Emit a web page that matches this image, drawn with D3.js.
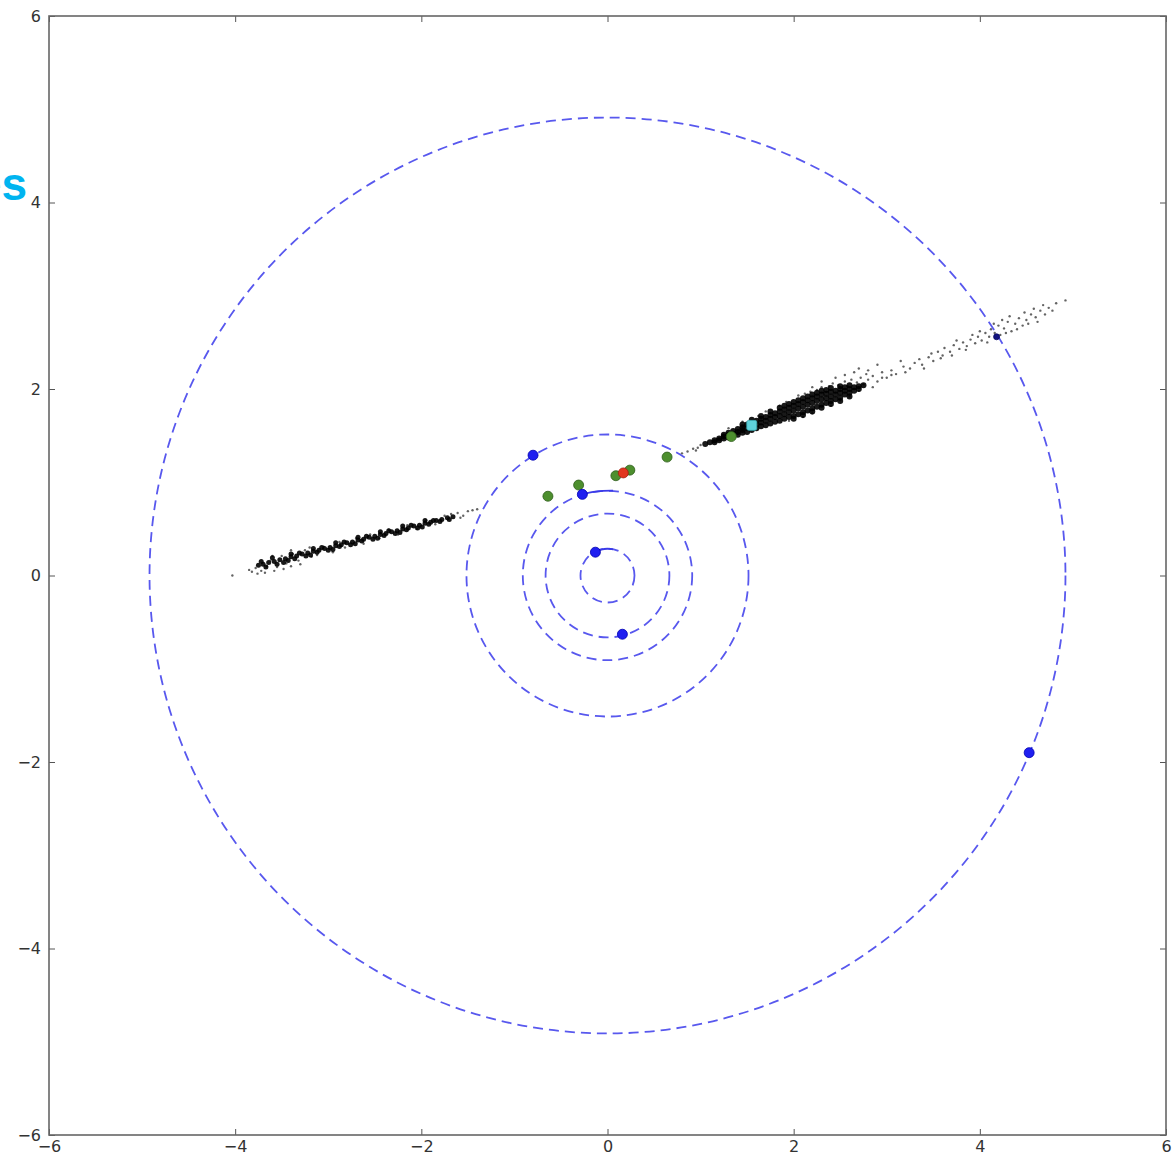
<!DOCTYPE html>
<html>
<head>
<meta charset="utf-8">
<script src="https://cdn.jsdelivr.net/npm/d3@7"></script>
<style>
  body { margin: 0; background: #fff; }
  svg { display: block; }
</style>
</head>
<body>
<svg id="chart"></svg>
<script>
// ---- data ----
const xTicks = [-6, -4, -2, 0, 2, 4, 6];
const yTicks = [-6, -4, -2, 0, 2, 4, 6];

// orbit radii (dashed circles, centred on the origin)
const orbitRadii = [0.29, 0.665, 0.91, 1.515, 4.92];

// planets on the orbits
const planets = [
  [-0.80, 1.29], [-0.27, 0.87], [-0.13, 0.25], [0.16, -0.63], [4.53, -1.90]
];
const smallPlanet = [[4.18, 2.56]];

// short trails behind two planets
const trails = [
  [[-0.13, 0.25], [-0.07, 0.28], [0.0, 0.29], [0.06, 0.28]],
  [[-0.27, 0.87], [-0.15, 0.90], [-0.05, 0.91], [0.06, 0.91]]
];

const greenBodies = [
  [-0.64, 0.85], [-0.31, 0.97], [0.09, 1.07], [0.24, 1.13], [0.64, 1.27], [1.33, 1.49]
];
const redBodies = [[0.17, 1.10]];
const cyanBodies = [[1.55, 1.61]];

// dense part of the particle stream, right arm
const coreRight = [
  [1.05, 1.41], [1.10, 1.43], [1.15, 1.45], [1.15, 1.43], [1.20, 1.47], [1.20, 1.45],
  [1.25, 1.49], [1.25, 1.47], [1.25, 1.51], [1.30, 1.51], [1.30, 1.48], [1.30, 1.53],
  [1.35, 1.52], [1.35, 1.50], [1.35, 1.55], [1.40, 1.54], [1.40, 1.51], [1.40, 1.57],
  [1.45, 1.56], [1.45, 1.53], [1.45, 1.59], [1.50, 1.58], [1.50, 1.54], [1.50, 1.62],
  [1.55, 1.60], [1.55, 1.56], [1.55, 1.64], [1.60, 1.62], [1.60, 1.58], [1.60, 1.66],
  [1.65, 1.64], [1.65, 1.60], [1.65, 1.68], [1.70, 1.66], [1.70, 1.61], [1.70, 1.70],
  [1.75, 1.68], [1.75, 1.63], [1.75, 1.72], [1.80, 1.70], [1.80, 1.65], [1.80, 1.74],
  [1.85, 1.71], [1.85, 1.66], [1.85, 1.76], [1.90, 1.73], [1.90, 1.68], [1.90, 1.78],
  [1.95, 1.75], [1.95, 1.70], [1.95, 1.80], [2.00, 1.77], [2.00, 1.71], [2.00, 1.82],
  [2.00, 1.86], [2.05, 1.79], [2.05, 1.73], [2.05, 1.84], [2.05, 1.88], [2.10, 1.81],
  [2.10, 1.75], [2.10, 1.86], [2.15, 1.83], [2.15, 1.77], [2.15, 1.88], [2.20, 1.85],
  [2.20, 1.79], [2.20, 1.90], [2.25, 1.87], [2.25, 1.81], [2.25, 1.92], [2.30, 1.89],
  [2.30, 1.83], [2.30, 1.94], [2.35, 1.90], [2.35, 1.85], [2.35, 1.95], [2.40, 1.92],
  [2.40, 1.87], [2.40, 1.97], [2.45, 1.94], [2.45, 1.89], [2.50, 1.96], [2.50, 1.91],
  [2.50, 2.00], [2.55, 1.98], [2.55, 1.94], [2.60, 2.00], [2.60, 1.96], [2.65, 2.02],
  [2.70, 2.03],
  [1.90, 1.82], [1.95, 1.84], [2.00, 1.68], [2.10, 1.90], [2.15, 1.92], [2.20, 1.94],
  [2.25, 1.96], [2.30, 1.98], [2.35, 1.99], [2.40, 2.01], [2.45, 1.98], [2.50, 2.03],
  [2.55, 2.02], [2.60, 2.04], [2.65, 1.98], [2.70, 2.00], [2.75, 2.04], [2.10, 1.72],
  [2.20, 1.76], [2.30, 1.80], [2.40, 1.84], [2.50, 1.87], [2.60, 1.92], [1.85, 1.80],
  [1.75, 1.76], [1.65, 1.71], [1.55, 1.67], [1.45, 1.62]
];

// dense part of the particle stream, left arm
const coreLeft = [
  [-3.75, 0.11], [-3.70, 0.12], [-3.64, 0.14], [-3.58, 0.15], [-3.52, 0.17], [-3.46, 0.18],
  [-3.40, 0.20], [-3.34, 0.21], [-3.28, 0.23], [-3.22, 0.24], [-3.16, 0.26], [-3.10, 0.27],
  [-3.04, 0.29], [-2.98, 0.30], [-2.92, 0.32], [-2.86, 0.33], [-2.80, 0.35], [-2.74, 0.36],
  [-2.68, 0.38], [-2.62, 0.39], [-2.56, 0.41], [-2.50, 0.42], [-2.44, 0.44], [-2.38, 0.45],
  [-2.32, 0.47], [-2.26, 0.48], [-2.20, 0.50], [-2.14, 0.51], [-2.08, 0.53], [-2.02, 0.54],
  [-1.96, 0.56], [-1.90, 0.57], [-1.84, 0.59], [-1.78, 0.60], [-1.72, 0.62], [-1.66, 0.63],
  [-3.67, 0.09], [-3.55, 0.12], [-3.43, 0.16], [-3.31, 0.24], [-3.19, 0.22], [-3.07, 0.30],
  [-2.95, 0.28], [-2.83, 0.36], [-2.71, 0.34], [-2.59, 0.42], [-2.47, 0.40], [-2.35, 0.48],
  [-2.23, 0.46], [-2.11, 0.54], [-1.99, 0.52], [-1.87, 0.59],
  [-3.72, 0.15], [-3.60, 0.19], [-3.48, 0.14], [-3.36, 0.18], [-3.24, 0.21], [-3.12, 0.25],
  [-3.00, 0.27], [-2.88, 0.31], [-2.76, 0.33], [-2.64, 0.37], [-2.52, 0.39], [-2.40, 0.43],
  [-2.28, 0.45], [-2.16, 0.49], [-2.04, 0.51], [-1.92, 0.55], [-1.80, 0.58], [-1.70, 0.60],
  [-3.40, 0.23], [-3.16, 0.29], [-2.92, 0.35], [-2.68, 0.41], [-2.44, 0.47], [-2.20, 0.53],
  [-1.96, 0.59]
];

// sparse outskirts of the stream
const streamHalo = [
  [0.80, 1.31], [0.86, 1.33], [0.92, 1.36], [0.97, 1.37], [1.00, 1.40], [0.95, 1.34],
  [1.30, 1.58], [1.45, 1.65], [1.62, 1.71], [1.70, 1.76], [1.85, 1.82], [1.92, 1.86],
  [2.05, 1.93], [2.12, 1.95], [2.18, 1.97], [2.25, 1.99], [2.30, 2.02], [2.38, 2.03],
  [2.42, 2.06], [2.48, 2.04], [2.55, 2.08], [2.58, 2.03], [2.62, 2.10], [2.68, 2.07],
  [2.72, 2.12], [2.75, 2.05], [2.80, 2.10], [2.85, 2.14], [2.78, 2.16], [2.90, 2.08],
  [2.95, 2.18], [3.00, 2.12], [3.05, 2.20], [3.10, 2.16], [3.18, 2.24], [3.25, 2.22],
  [3.30, 2.28], [3.15, 2.30], [3.38, 2.26], [3.45, 2.34], [3.50, 2.30], [3.55, 2.40],
  [3.60, 2.36], [3.62, 2.44], [3.68, 2.40], [3.72, 2.47], [3.78, 2.43], [3.82, 2.50],
  [3.86, 2.46], [3.90, 2.53], [3.95, 2.49], [3.98, 2.56], [4.02, 2.52], [4.06, 2.60],
  [4.10, 2.56], [4.12, 2.64], [4.16, 2.60], [4.20, 2.68], [4.22, 2.58], [4.26, 2.65],
  [4.30, 2.72], [4.34, 2.62], [4.38, 2.70], [4.42, 2.76], [4.46, 2.68], [4.50, 2.74],
  [4.55, 2.80], [4.60, 2.77], [4.65, 2.84], [4.70, 2.80], [4.74, 2.87], [4.92, 2.95],
  [2.70, 1.98], [2.60, 1.92], [2.85, 2.02], [2.50, 1.88], [2.40, 1.82], [2.20, 1.74],
  [2.10, 1.70], [1.95, 1.66],
  [2.20, 2.02], [2.30, 2.08], [2.45, 2.12], [2.55, 2.15], [2.65, 2.18], [2.70, 2.22],
  [2.80, 2.20], [2.90, 2.26], [2.95, 2.12], [3.05, 2.15], [3.20, 2.18], [3.35, 2.32],
  [3.40, 2.22], [3.48, 2.38], [3.58, 2.33], [3.70, 2.36], [3.75, 2.52], [3.85, 2.42],
  [3.92, 2.58], [4.00, 2.62], [4.08, 2.50], [4.15, 2.70], [4.24, 2.74], [4.28, 2.60],
  [4.32, 2.78], [4.40, 2.64], [4.48, 2.82], [4.52, 2.70], [4.58, 2.86], [4.62, 2.72],
  [4.68, 2.90], [4.78, 2.84], [4.82, 2.92],
  [-4.03, 0.00], [-3.82, 0.04], [-3.78, 0.08], [-3.72, 0.05], [-3.66, 0.10], [-3.62, 0.16],
  [-3.55, 0.09], [-3.50, 0.21], [-3.45, 0.13], [-3.38, 0.23], [-3.32, 0.16], [-3.25, 0.27],
  [-3.18, 0.20], [-3.12, 0.22], [-3.05, 0.31], [-2.95, 0.25], [-2.88, 0.36], [-2.82, 0.30],
  [-2.70, 0.40], [-2.62, 0.34], [-2.55, 0.44], [-2.45, 0.40], [-2.35, 0.49], [-2.25, 0.44],
  [-2.15, 0.54], [-2.05, 0.50], [-1.95, 0.59], [-1.85, 0.55], [-1.75, 0.64], [-1.61, 0.67],
  [-1.55, 0.64], [-1.50, 0.69], [-1.45, 0.70], [-1.40, 0.71],
  [-3.85, 0.06], [-3.76, 0.02], [-3.68, 0.03], [-3.58, 0.05], [-3.48, 0.07], [-3.40, 0.10],
  [-3.30, 0.12], [-3.60, 0.21], [-3.40, 0.27], [-3.20, 0.30], [-1.68, 0.66], [-1.58, 0.62]
];

// ---- drawing ----
const width = 1174;
const height = 1160;
const plot = { left: 49, right: 1166, top: 16, bottom: 1135 };

const svg = d3.select('#chart')
  .attr('width', width)
  .attr('height', height)
  .style('font-family', '"DejaVu Sans", sans-serif');

svg.append('rect').attr('width', width).attr('height', height).attr('fill', '#fff');

const x = d3.scaleLinear().domain([-6, 6]).range([plot.left, plot.right]);
const y = d3.scaleLinear().domain([-6, 6]).range([plot.bottom, plot.top]);
const fmt = d => (d < 0 ? '\u2212' + Math.abs(d) : String(d));

svg.append('clipPath').attr('id', 'plotClip')
  .append('rect')
  .attr('x', plot.left).attr('y', plot.top)
  .attr('width', plot.right - plot.left).attr('height', plot.bottom - plot.top);
const graph = svg.append('g').attr('clip-path', 'url(#plotClip)');

function stream(data, r, fill, opacity) {
  graph.append('g').selectAll('circle')
    .data(data).enter().append('circle')
    .attr('cx', d => x(d[0])).attr('cy', d => y(d[1]))
    .attr('r', r)
    .attr('fill', fill)
    .attr('opacity', opacity);
}

stream(streamHalo, 1.2, '#222', 0.7);
stream(coreLeft, 2.5, '#000', 0.9);
stream(coreRight, 3.0, '#000', 0.9);

// orbits
graph.append('g').selectAll('circle.orbit')
  .data(orbitRadii).enter().append('circle')
  .attr('class', 'orbit')
  .attr('cx', x(0)).attr('cy', y(0))
  .attr('r', d => x(d) - x(0))
  .attr('fill', 'none')
  .attr('stroke', '#5858ee')
  .attr('stroke-width', 1.8)
  .attr('stroke-dasharray', '10,6');

// trails
const line = d3.line().x(d => x(d[0])).y(d => y(d[1])).curve(d3.curveBasis);
graph.append('g').selectAll('path.trail')
  .data(trails).enter().append('path')
  .attr('class', 'trail')
  .attr('d', line)
  .attr('fill', 'none')
  .attr('stroke', '#3a3ae8')
  .attr('stroke-width', 1.8);

function dots(data, r, fill, stroke) {
  graph.append('g').selectAll('circle')
    .data(data).enter().append('circle')
    .attr('cx', d => x(d[0])).attr('cy', d => y(d[1]))
    .attr('r', r)
    .attr('fill', fill)
    .attr('stroke', stroke)
    .attr('stroke-width', 0.8);
}

dots(greenBodies, 5, '#4d8f2e', '#2f5d1c');
dots(redBodies, 5, '#e2361f', '#a02010');
dots(planets, 5, '#1f1ff0', '#0000b0');
dots(smallPlanet, 3, '#141480', '#0a0a60');

graph.append('g').selectAll('rect.cyan')
  .data(cyanBodies).enter().append('rect')
  .attr('class', 'cyan')
  .attr('x', d => x(d[0]) - 5).attr('y', d => y(d[1]) - 5)
  .attr('width', 10).attr('height', 10)
  .attr('rx', 2)
  .attr('fill', '#5fd2dc')
  .attr('stroke', '#3aa8b0')
  .attr('stroke-width', 0.8);

// axes with inward ticks
const axisStyle = g => {
  g.select('.domain').remove();
  g.selectAll('.tick line').attr('stroke', '#555').attr('stroke-width', 1);
  g.selectAll('.tick text')
    .attr('fill', '#333')
    .attr('font-family', '"DejaVu Sans", sans-serif')
    .style('font-size', '16px');
};

svg.append('g')
  .attr('transform', `translate(0,${plot.bottom})`)
  .call(d3.axisBottom(x).tickValues(xTicks).tickFormat(fmt).tickSize(-6).tickPadding(6))
  .call(axisStyle);

svg.append('g')
  .attr('transform', `translate(0,${plot.top})`)
  .call(d3.axisTop(x).tickValues(xTicks).tickFormat('').tickSize(-6))
  .call(axisStyle);

svg.append('g')
  .attr('transform', `translate(${plot.left},0)`)
  .call(d3.axisLeft(y).tickValues(yTicks).tickFormat(fmt).tickSize(-6).tickPadding(8))
  .call(axisStyle);

svg.append('g')
  .attr('transform', `translate(${plot.right},0)`)
  .call(d3.axisRight(y).tickValues(yTicks).tickFormat('').tickSize(-6))
  .call(axisStyle);

// frame
svg.append('rect')
  .attr('x', plot.left).attr('y', plot.top)
  .attr('width', plot.right - plot.left).attr('height', plot.bottom - plot.top)
  .attr('fill', 'none')
  .attr('stroke', '#666')
  .attr('stroke-width', 1.6);

// caption fragment that runs off the left edge, as in the reference
svg.append('text')
  .attr('x', 27).attr('y', 200)
  .attr('text-anchor', 'end')
  .attr('fill', '#00b4f0')
  .attr('font-family', '"Liberation Sans", Arial, sans-serif')
  .attr('font-weight', 'bold')
  .attr('font-size', 46)
  .text('es');
</script>
</body>
</html>
